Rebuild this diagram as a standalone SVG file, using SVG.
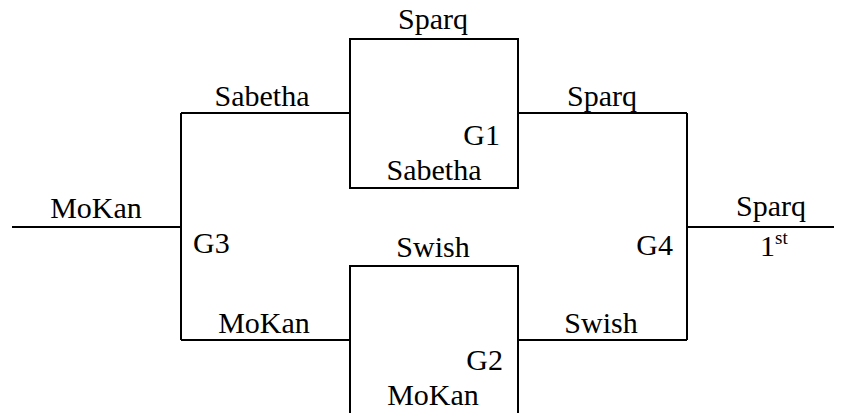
<svg xmlns="http://www.w3.org/2000/svg" width="846" height="413" viewBox="0 0 846 413">
<style>
.ln{stroke:#000;stroke-width:2;fill:none}
text{font-family:'Liberation Serif', 'Times New Roman', Times, serif;font-size:30px;fill:#000}
.c{text-anchor:middle}
.r{text-anchor:end}
</style>
<rect width="846" height="413" fill="#fff"/>
<g id="connectors">
<path class="ln" d="M12,227 H181"/>
<path class="ln" d="M181,113 V340"/>
<path class="ln" d="M181,113 H350"/>
<path class="ln" d="M181,340 H350"/>
<path class="ln" d="M518,113 H687"/>
<path class="ln" d="M518,340 H687"/>
<path class="ln" d="M687,113 V340"/>
<path class="ln" d="M687,227 H834"/>
</g>
<g id="g1">
<rect class="ln" x="350" y="39" width="168" height="149"/>
<text class="c" x="433" y="29">Sparq</text>
<text class="r" x="500" y="145">G1</text>
<text class="c" x="434" y="180">Sabetha</text>
</g>
<g id="g2">
<path class="ln" d="M350,413 V266 H518 V413"/>
<text class="c" x="433" y="257">Swish</text>
<text class="r" x="503" y="370">G2</text>
<text class="c" x="433" y="405">MoKan</text>
</g>
<g id="g3">
<text class="c" x="96" y="218">MoKan</text>
<text x="193" y="253">G3</text>
<text class="c" x="262" y="106">Sabetha</text>
<text class="c" x="264" y="333">MoKan</text>
</g>
<g id="g4">
<text class="r" x="673" y="255">G4</text>
<text class="c" x="602" y="106">Sparq</text>
<text class="c" x="601" y="333">Swish</text>
<text class="c" x="771" y="216">Sparq</text>
<text x="760" y="256">1<tspan font-size="19" dy="-12">st</tspan></text>
</g>
</svg>
